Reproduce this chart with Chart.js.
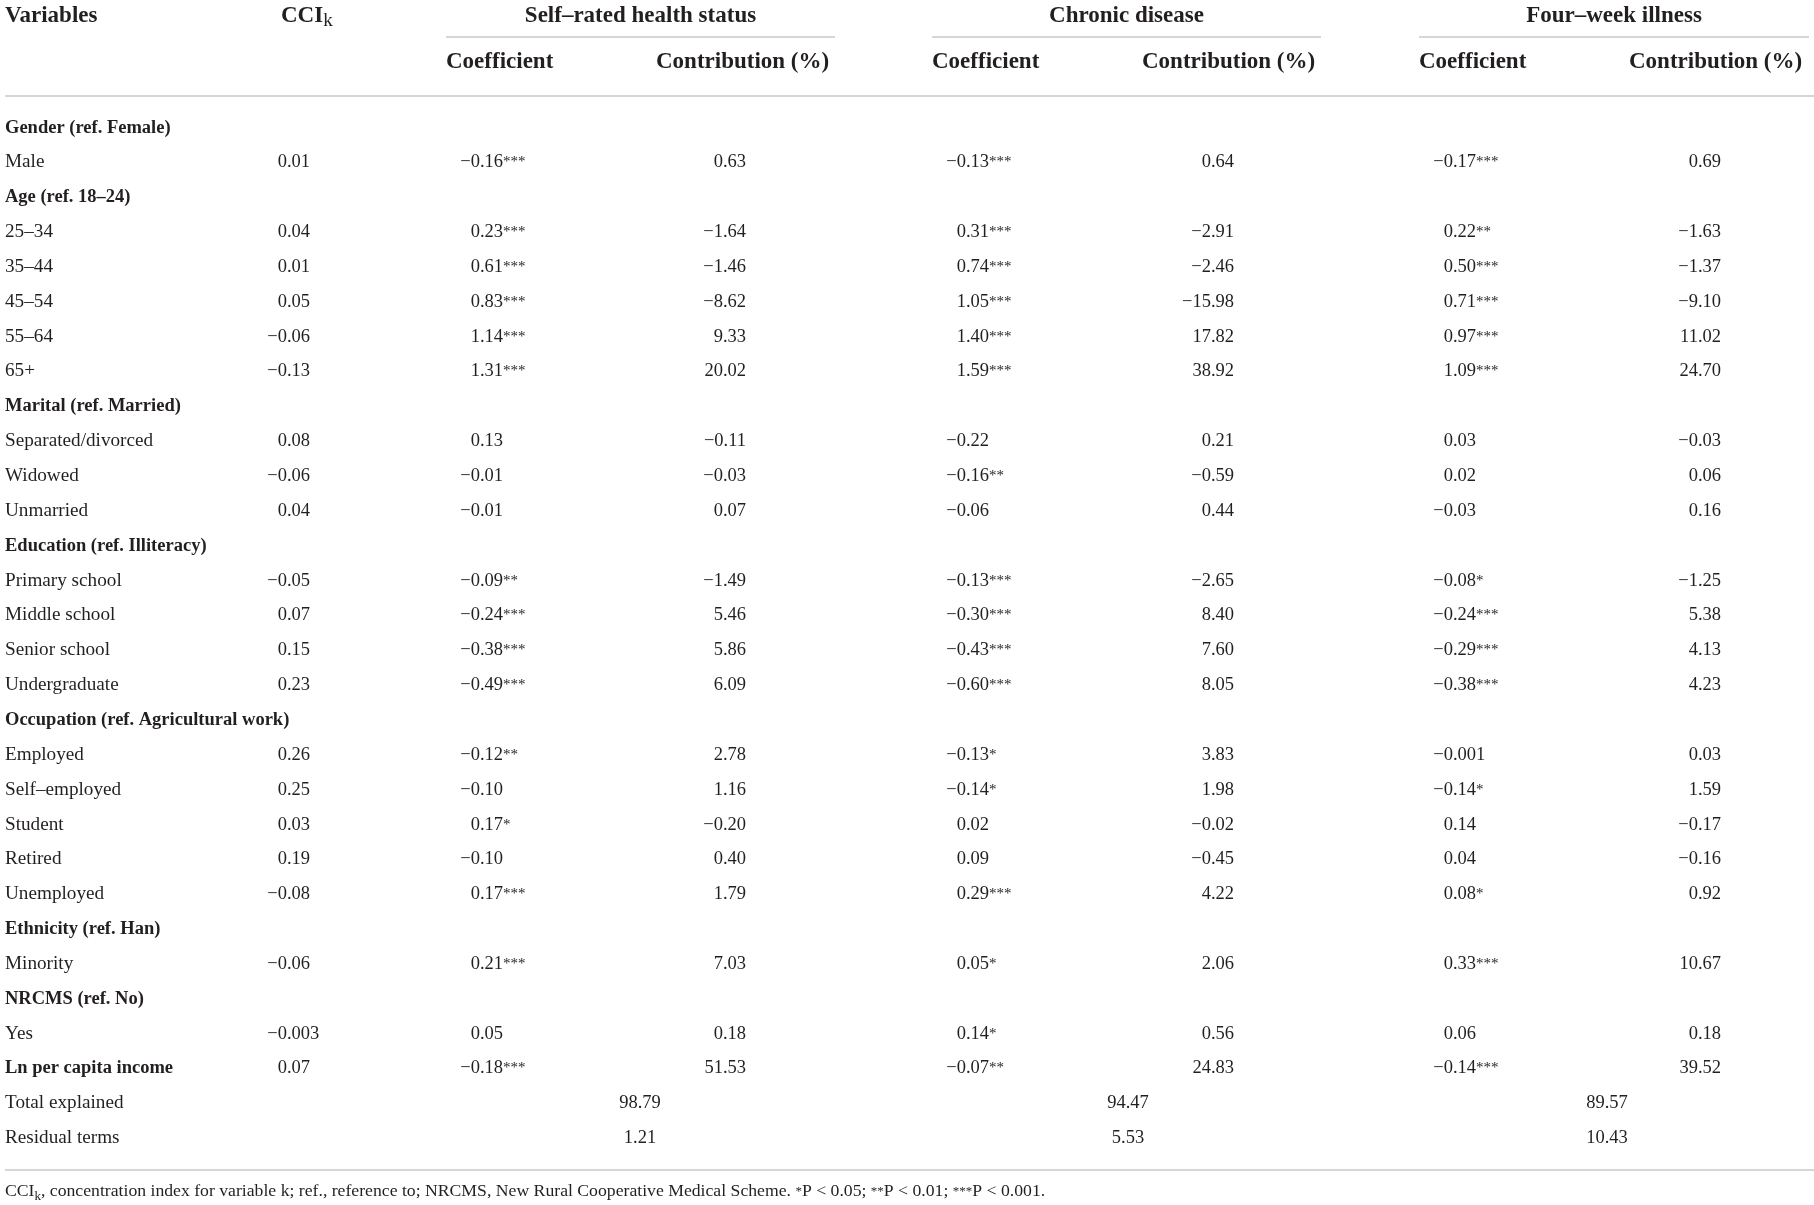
<!DOCTYPE html>
<html>
<head>
<meta charset="utf-8">
<script src="https://cdn.jsdelivr.net/npm/chart.js@4.4.1/dist/chart.umd.min.js"></script>
<style>
  html, body { margin: 0; padding: 0; background: #fff; }
  #wrap { width: 1814px; height: 1205px; position: relative; }
</style>
</head>
<body>
<div id="wrap"><canvas id="table"></canvas></div>
<script>
/* ============================================
   DATA
============================================ */

const variables = [
    "Gender (ref. Female)", "Male",
    "Age (ref. 18–24)", "25–34", "35–44", "45–54", "55–64", "65+",
    "Marital (ref. Married)", "Separated/divorced", "Widowed", "Unmarried",
    "Education (ref. Illiteracy)", "Primary school", "Middle school", "Senior school", "Undergraduate",
    "Occupation (ref. Agricultural work)", "Employed", "Self–employed", "Student", "Retired", "Unemployed",
    "Ethnicity (ref. Han)", "Minority",
    "NRCMS (ref. No)", "Yes",
    "Ln per capita income",
    "Total explained", "Residual terms"
];
const boldRows = [0, 2, 8, 12, 17, 23, 25, 27];

const groups = ["Self–rated health status", "Chronic disease", "Four–week illness"];
const subHeads = ["Coefficient", "Contribution (%)"];

const cci = [null, 0.01, null, 0.04, 0.01, 0.05, -0.06, -0.13, null, 0.08, -0.06, 0.04,
    null, -0.05, 0.07, 0.15, 0.23, null, 0.26, 0.25, 0.03, 0.19, -0.08, null, -0.06,
    null, -0.003, 0.07, null, null];

const srCoef = [null, -0.16, null, 0.23, 0.61, 0.83, 1.14, 1.31, null, 0.13, -0.01, -0.01,
    null, -0.09, -0.24, -0.38, -0.49, null, -0.12, -0.10, 0.17, -0.10, 0.17, null, 0.21,
    null, 0.05, -0.18, null, null];
const srSig = ["", "***", "", "***", "***", "***", "***", "***", "", "", "", "",
    "", "**", "***", "***", "***", "", "**", "", "*", "", "***", "", "***",
    "", "", "***", "", ""];
const srContr = [null, 0.63, null, -1.64, -1.46, -8.62, 9.33, 20.02, null, -0.11, -0.03, 0.07,
    null, -1.49, 5.46, 5.86, 6.09, null, 2.78, 1.16, -0.20, 0.40, 1.79, null, 7.03,
    null, 0.18, 51.53, null, null];

const cdCoef = [null, -0.13, null, 0.31, 0.74, 1.05, 1.40, 1.59, null, -0.22, -0.16, -0.06,
    null, -0.13, -0.30, -0.43, -0.60, null, -0.13, -0.14, 0.02, 0.09, 0.29, null, 0.05,
    null, 0.14, -0.07, null, null];
const cdSig = ["", "***", "", "***", "***", "***", "***", "***", "", "", "**", "",
    "", "***", "***", "***", "***", "", "*", "*", "", "", "***", "", "*",
    "", "*", "**", "", ""];
const cdContr = [null, 0.64, null, -2.91, -2.46, -15.98, 17.82, 38.92, null, 0.21, -0.59, 0.44,
    null, -2.65, 8.40, 7.60, 8.05, null, 3.83, 1.98, -0.02, -0.45, 4.22, null, 2.06,
    null, 0.56, 24.83, null, null];

const fwCoef = [null, -0.17, null, 0.22, 0.50, 0.71, 0.97, 1.09, null, 0.03, 0.02, -0.03,
    null, -0.08, -0.24, -0.29, -0.38, null, -0.001, -0.14, 0.14, 0.04, 0.08, null, 0.33,
    null, 0.06, -0.14, null, null];
const fwSig = ["", "***", "", "**", "***", "***", "***", "***", "", "", "", "",
    "", "*", "***", "***", "***", "", "", "*", "", "", "*", "", "***",
    "", "", "***", "", ""];
const fwContr = [null, 0.69, null, -1.63, -1.37, -9.10, 11.02, 24.70, null, -0.03, 0.06, 0.16,
    null, -1.25, 5.38, 4.13, 4.23, null, 0.03, 1.59, -0.17, -0.16, 0.92, null, 10.67,
    null, 0.18, 39.52, null, null];

const totalExplained = [98.79, 94.47, 89.57];
const residualTerms = [1.21, 5.53, 10.43];

/* ============================================
   LAYOUT / STYLE
============================================ */

const W = 1814, H = 1205;
const ROW_TOP = 132.5, ROW_H = 34.85;          // baseline of first body row, row pitch
const yUnit = px => (px - ROW_TOP) / ROW_H;    // pixel -> row units

const X_LABEL = 5;
const X_CCI = 310;
const X_COEF = [503, 989, 1476];
const X_CONTR = [746, 1234, 1721];
const X_COEF_HEAD = [446, 932, 1419];
const X_CONTR_HEAD = [656, 1142, 1629];
const X_GROUP_END = [835, 1321, 1809];
const X_TOTAL = [640, 1128, 1607];

const SERIF = "'Liberation Serif', 'Times New Roman', serif";
const F_BODY = `18.5px ${SERIF}`;
const F_LABEL = `19.2px ${SERIF}`;
const F_BOLD = `bold 18.5px ${SERIF}`;
const F_HEAD = `bold 23px ${SERIF}`;
const F_STAR = `15px ${SERIF}`;
const F_NOTE = `17.7px ${SERIF}`;
const F_NOTE_SMALL = `13px ${SERIF}`;
const INK = "#231f20";
const RULE = "#c9c9c9";

/* ============================================
   HELPERS
============================================ */

function fmt(v) {
    const a = Math.abs(v);
    const d = (a > 0 && a < 0.01) ? 3 : 2;
    return (v < 0 ? "−" : "") + a.toFixed(d);
}

// one text column: a scatter dataset whose points carry text
function textSet(points, texts, align, font, stars) {
    return {
        data: points,
        cellText: texts,
        cellAlign: align,
        cellFont: font,
        cellStars: stars || null,
        pointRadius: 0,
        showLine: false
    };
}

function columnSet(values, x, stars) {
    const pts = [], txt = [], st = [];
    values.forEach((v, i) => {
        if (v === null) return;
        pts.push({ x: x, y: i });
        txt.push(fmt(v));
        st.push(stars ? stars[i] : "");
    });
    return textSet(pts, txt, "decimal", F_BODY, st);
}

function ruleSet(x1, x2, yPx) {
    return {
        data: [{ x: x1, y: yUnit(yPx) }, { x: x2, y: yUnit(yPx) }],
        showLine: true,
        borderColor: RULE,
        borderWidth: 1.5,
        pointRadius: 0
    };
}

function runsWidth(ctx, runs) {
    let w = 0;
    runs.forEach(r => { ctx.font = r.font; w += ctx.measureText(r.t).width; });
    return w;
}

function drawRuns(ctx, x, y, runs) {
    let cx = x;
    runs.forEach(r => {
        ctx.font = r.font;
        ctx.fillText(r.t, cx, y + (r.dy || 0));
        cx += ctx.measureText(r.t).width;
    });
}

/* ============================================
   DATASETS
============================================ */

const datasets = [];

// rules
datasets.push(ruleSet(X_LABEL, W, 96));
datasets.push(ruleSet(X_LABEL, W, 1170));
X_COEF_HEAD.forEach((x, g) => datasets.push(ruleSet(x, X_GROUP_END[g], 37)));

// header
datasets.push(textSet([{ x: X_LABEL, y: yUnit(22) }], ["Variables"], "left", F_HEAD));
datasets.push(textSet([{ x: 281, y: yUnit(22) }],
    [[{ t: "CCI", font: F_HEAD }, { t: "k", font: `19px ${SERIF}`, dy: 4 }]], "left", F_HEAD));
groups.forEach((g, i) => {
    const cx = (X_COEF_HEAD[i] + X_GROUP_END[i]) / 2;
    datasets.push(textSet([{ x: cx, y: yUnit(22) }], [g], "center", F_HEAD));
    datasets.push(textSet([{ x: X_COEF_HEAD[i], y: yUnit(68) }], [subHeads[0]], "left", F_HEAD));
    datasets.push(textSet([{ x: X_CONTR_HEAD[i], y: yUnit(68) }], [subHeads[1]], "left", F_HEAD));
});

// variable names
variables.forEach((v, i) => {
    datasets.push(textSet([{ x: X_LABEL, y: i }], [v], "left",
        boldRows.includes(i) ? F_BOLD : F_LABEL));
});

// body columns
datasets.push(columnSet(cci, X_CCI));
datasets.push(columnSet(srCoef, X_COEF[0], srSig));
datasets.push(columnSet(srContr, X_CONTR[0]));
datasets.push(columnSet(cdCoef, X_COEF[1], cdSig));
datasets.push(columnSet(cdContr, X_CONTR[1]));
datasets.push(columnSet(fwCoef, X_COEF[2], fwSig));
datasets.push(columnSet(fwContr, X_CONTR[2]));

// totals
datasets.push(textSet(X_TOTAL.map(x => ({ x: x, y: 28 })), totalExplained.map(fmt), "center", F_BODY));
datasets.push(textSet(X_TOTAL.map(x => ({ x: x, y: 29 })), residualTerms.map(fmt), "center", F_BODY));

// footnote
datasets.push(textSet([{ x: X_LABEL, y: yUnit(1196) }], [[
    { t: "CCI", font: F_NOTE },
    { t: "k", font: F_NOTE_SMALL, dy: 4 },
    { t: ", concentration index for variable k; ref., reference to; NRCMS, New Rural Cooperative Medical Scheme. ", font: F_NOTE },
    { t: "*", font: F_NOTE_SMALL, dy: -1 },
    { t: "P < 0.05; ", font: F_NOTE },
    { t: "**", font: F_NOTE_SMALL, dy: -1 },
    { t: "P < 0.01; ", font: F_NOTE },
    { t: "***", font: F_NOTE_SMALL, dy: -1 },
    { t: "P < 0.001.", font: F_NOTE }
]], "left", F_NOTE));

/* ============================================
   TEXT PLUGIN
============================================ */

const cellText = {
    id: "cellText",
    afterDatasetsDraw(chart) {
        const ctx = chart.ctx;
        ctx.save();
        ctx.fillStyle = INK;
        ctx.textBaseline = "alphabetic";
        ctx.textAlign = "left";

        chart.data.datasets.forEach((ds, di) => {
            if (!ds.cellText) return;
            const meta = chart.getDatasetMeta(di);

            meta.data.forEach((pt, j) => {
                const text = ds.cellText[j];
                const x = pt.x, y = pt.y;

                if (ds.cellAlign === "decimal") {
                    const dot = text.indexOf(".");
                    const main = text.slice(0, dot + 3);
                    const extra = text.slice(dot + 3);
                    ctx.font = ds.cellFont;
                    const x0 = x - ctx.measureText(main).width;
                    drawRuns(ctx, x0, y, [
                        { t: main, font: ds.cellFont },
                        { t: extra, font: ds.cellFont },
                        { t: ds.cellStars ? ds.cellStars[j] : "", font: F_STAR, dy: -1 }
                    ]);
                    return;
                }

                const runs = Array.isArray(text) ? text : [{ t: text, font: ds.cellFont }];
                const w = runsWidth(ctx, runs);
                const x0 = ds.cellAlign === "center" ? x - w / 2 : x;
                drawRuns(ctx, x0, y, runs);
            });
        });

        ctx.restore();
    }
};

/* ============================================
   CHART
============================================ */

new Chart(document.getElementById("table"), {
    type: "scatter",
    data: { datasets: datasets },
    options: {
        responsive: true,
        maintainAspectRatio: false,
        animation: false,
        events: [],
        layout: { padding: 0 },
        plugins: {
            legend: { display: false },
            tooltip: { enabled: false }
        },
        scales: {
            x: { type: "linear", min: 0, max: W, display: false },
            y: { type: "linear", min: yUnit(0), max: yUnit(H), reverse: true, display: false }
        }
    },
    plugins: [cellText]
});
</script>
</body>
</html>
